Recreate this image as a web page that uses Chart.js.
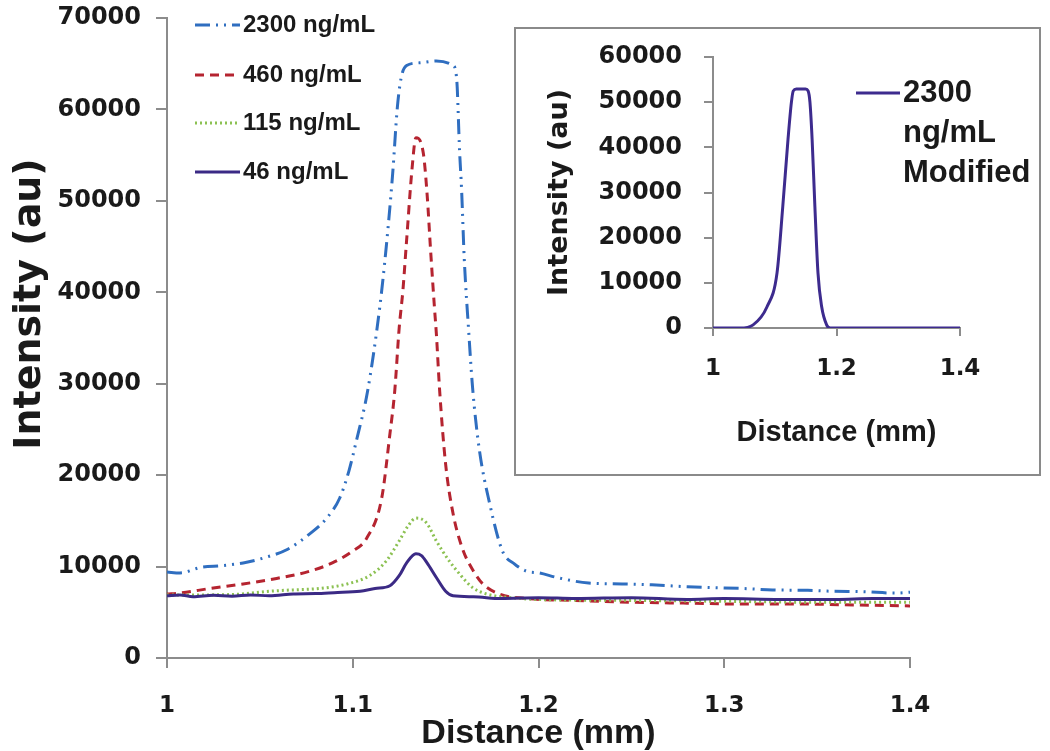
<!DOCTYPE html>
<html>
<head>
<meta charset="utf-8">
<script src="https://cdn.jsdelivr.net/npm/chart.js@4.4.0/dist/chart.umd.min.js"></script>
<style>
  html, body { margin: 0; padding: 0; background: #fff; }
  #wrap { position: relative; width: 1050px; height: 751px; overflow: hidden; }
  #mainBox { position: absolute; left: 0; top: 0; }
  #insetBox { position: absolute; left: 514px; top: 27px; width: 527px; height: 449px;
              border: 2px solid #8a8a8a; background: #fff; box-sizing: border-box; }
  canvas { display: block; }
</style>
</head>
<body>
<div id="wrap">
  <div id="mainBox"><canvas id="mainChart" width="1050" height="751"></canvas></div>
  <div id="insetBox"><canvas id="insetChart" width="523" height="445"></canvas></div>
</div>
<script>
// values (distance in mm, intensity in au)
const legendLabels = ['2300 ng/mL', '460 ng/mL', '115 ng/mL', '46 ng/mL'];
const insetLabel = ['2300', 'ng/mL', 'Modified'];

const dist2300 = [1.000, 1.007, 1.018, 1.030, 1.041, 1.053, 1.065, 1.077, 1.086, 1.093, 1.098, 1.102, 1.108,
  1.1145, 1.118, 1.1215, 1.124, 1.126, 1.129, 1.136, 1.145, 1.154, 1.156, 1.1575, 1.1586, 1.160, 1.1624,
  1.1645, 1.168, 1.1737, 1.1806, 1.187, 1.1935, 1.2005, 1.210, 1.227, 1.245, 1.261, 1.280, 1.294, 1.310,
  1.326, 1.345, 1.358, 1.375, 1.392, 1.400];
const int2300 = [9400, 9300, 9900, 10100, 10400, 11000, 11900, 13600, 15300, 17500, 20500, 23800, 29200,
  38300, 44900, 53000, 60200, 63400, 64800, 65100, 65300, 64800, 63200, 55500, 51200, 43800, 35800,
  29600, 23000, 16900, 11700, 10300, 9500, 9300, 8800, 8200, 8100, 8000, 7800, 7700, 7600,
  7450, 7400, 7300, 7250, 7100, 7200];

const dist460 = [1.000, 1.007, 1.023, 1.041, 1.059, 1.077, 1.089, 1.100, 1.1075, 1.1156, 1.120, 1.1226, 1.125,
  1.127, 1.129, 1.132, 1.134, 1.138, 1.140, 1.142, 1.144, 1.145, 1.1468, 1.150, 1.154, 1.159, 1.165,
  1.170, 1.179, 1.194, 1.220, 1.250, 1.280, 1.310, 1.340, 1.370, 1.400];
const int460 = [7000, 7100, 7600, 8100, 8700, 9500, 10400, 11700, 13100, 17500, 24500, 29200, 36100,
  40200, 45700, 53700, 56900, 55200, 50800, 44300, 38300, 35500, 29200, 21200, 15800, 12000, 9500,
  8100, 7000, 6500, 6300, 6100, 6000, 5900, 5900, 5800, 5700];

const dist115 = [1.000, 1.020, 1.040, 1.055, 1.068, 1.082, 1.097, 1.109, 1.118, 1.125, 1.130, 1.134, 1.137,
  1.140, 1.145, 1.152, 1.1575, 1.1645, 1.172, 1.185, 1.200, 1.250, 1.300, 1.350, 1.400];
const int115 = [6900, 6900, 7000, 7300, 7450, 7600, 8100, 9000, 10600, 12800, 14500, 15300, 15200,
  14700, 12800, 10600, 9200, 7700, 7000, 6600, 6400, 6300, 6200, 6100, 6100];

const dist46 = [1.000, 1.007, 1.014, 1.025, 1.035, 1.045, 1.055, 1.068, 1.080, 1.090, 1.104, 1.112, 1.120,
  1.125, 1.129, 1.134, 1.137, 1.140, 1.145, 1.150, 1.154, 1.165, 1.180, 1.200, 1.220, 1.250, 1.280,
  1.300, 1.330, 1.360, 1.380, 1.400];
const int46 = [6800, 6900, 6700, 6850, 6750, 6900, 6800, 7000, 7050, 7150, 7300, 7600, 7900,
  9000, 10400, 11400, 11200, 10400, 8800, 7300, 6800, 6700, 6500, 6600, 6500, 6600, 6400,
  6500, 6400, 6400, 6500, 6500];

const distMod = [1.000, 1.044, 1.065, 1.0875, 1.1037, 1.113, 1.1215, 1.127, 1.130, 1.135, 1.150, 1.154,
  1.157, 1.1605, 1.165, 1.170, 1.176, 1.184, 1.190, 1.400];
const intMod = [0, 0, 700, 4700, 12200, 26900, 41800, 50000, 52500, 52900, 52900, 52500,
  50000, 41800, 26900, 12200, 4700, 700, 0, 0];

const mainTicksY = [0, 70000, 10000];   // min, max, step
const mainTicksX = [1, 1.4, 0.1];
const insetTicksY = [0, 60000, 10000];
const insetTicksX = [1, 1.4, 0.2];

function pts(xs, ys) { return xs.map((x, i) => ({ x: x, y: ys[i] })); }

const axisColor = '#8c8c8c';
const textColor = '#1a1a1a';
const tickFont = { family: 'DejaVu Sans', weight: 'bold', size: 24 };
const tickFontX = { family: 'DejaVu Sans', weight: 'bold', size: 23 };

// draws the line samples and labels of the legends, and a free y title
const lineLegend = {
  id: 'lineLegend',
  afterDatasetsDraw(chart, args, opts) {
    const ctx = chart.ctx;
    ctx.save();
    (opts.rows || []).forEach(row => {
      const ds = chart.data.datasets[row.index];
      ctx.strokeStyle = ds.borderColor;
      ctx.lineWidth = ds.borderWidth;
      ctx.lineCap = 'butt';
      ctx.setLineDash(ds.borderDash || []);
      ctx.beginPath();
      ctx.moveTo(opts.x1, row.y);
      ctx.lineTo(opts.x2, row.y);
      ctx.stroke();
      ctx.setLineDash([]);
      ctx.fillStyle = textColor;
      ctx.font = opts.font;
      ctx.textBaseline = 'middle';
      row.text.forEach((t, j) => ctx.fillText(t, opts.x2 + 3, row.y + j * (opts.gap || 0)));
    });
    if (opts.yTitle) {
      const t = opts.yTitle;
      ctx.translate(t.x, t.y);
      ctx.rotate(-Math.PI / 2);
      ctx.font = t.font;
      ctx.fillStyle = textColor;
      ctx.textAlign = 'center';
      ctx.textBaseline = 'middle';
      ctx.fillText(t.text, 0, 0);
    }
    ctx.restore();
  }
};

function axis(min, max, step, font, tickLen, pad, size, title) {
  return {
    type: 'linear', min: min, max: max,
    ticks: { stepSize: step, padding: pad, color: textColor, font: font, maxRotation: 0, autoSkip: false },
    grid: { drawOnChartArea: false, drawTicks: true, tickLength: tickLen, color: axisColor, lineWidth: 2 },
    border: { display: true, color: axisColor, width: 2 },
    title: title,
    afterFit: s => {
      if (s.isHorizontal()) { s.height = size; } else { s.width = size; s.paddingTop = 0; s.paddingBottom = 0; }
    }
  };
}
const fmtX = v => String(Math.round(v * 10) / 10);

const mainY = axis(mainTicksY[0], mainTicksY[1], mainTicksY[2], tickFont, 11, 15, 167, { display: false });
mainY.ticks.callback = v => String(v);
const mainX = axis(mainTicksX[0], mainTicksX[1], mainTicksX[2], tickFontX, 10, 24, 93,
  { display: true, text: 'Distance (mm)', color: textColor, font: { family: 'Liberation Sans', weight: 'bold', size: 34 }, padding: { top: 0, bottom: -3 } });
mainX.ticks.callback = fmtX;

new Chart(document.getElementById('mainChart').getContext('2d'), {
  type: 'line',
  data: {
    datasets: [
      { label: legendLabels[3], data: pts(dist46, int46), borderColor: '#3b2a85', borderWidth: 3 },
      { label: legendLabels[2], data: pts(dist115, int115), borderColor: '#8cc152', borderWidth: 3, borderDash: [2, 3] },
      { label: legendLabels[1], data: pts(dist460, int460), borderColor: '#b52430', borderWidth: 3, borderDash: [9, 6] },
      { label: legendLabels[0], data: pts(dist2300, int2300), borderColor: '#2f6ec0', borderWidth: 3, borderDash: [15, 6, 2, 6, 2, 6] }
    ]
  },
  options: {
    responsive: false,
    animation: false,
    layout: { padding: { top: 18, right: 140, bottom: 0, left: 0 } },
    elements: { point: { radius: 0 }, line: { cubicInterpolationMode: 'monotone', borderCapStyle: 'butt' } },
    plugins: {
      legend: { display: false },
      tooltip: { enabled: false },
      lineLegend: {
        x1: 195, x2: 240, font: 'bold 24px "Liberation Sans"',
        rows: [
          { index: 3, y: 25, text: [legendLabels[0]] },
          { index: 2, y: 75, text: [legendLabels[1]] },
          { index: 1, y: 123, text: [legendLabels[2]] },
          { index: 0, y: 172, text: [legendLabels[3]] }
        ],
        yTitle: { text: 'Intensity (au)', x: 30, y: 304, font: 'bold 38px "DejaVu Sans"' }
      }
    },
    scales: { x: mainX, y: mainY }
  },
  plugins: [lineLegend]
});

const insetY = axis(insetTicksY[0], insetTicksY[1], insetTicksY[2], tickFont, 9, 22, 197,
  { display: true, text: 'Intensity (au)', color: textColor, font: { family: 'DejaVu Sans', weight: 'bold', size: 27 }, padding: { top: 28, bottom: 0 } });
insetY.ticks.callback = v => String(v);
const insetX = axis(insetTicksX[0], insetTicksX[1], insetTicksX[2], tickFontX, 8, 19, 146,
  { display: true, text: 'Distance (mm)', color: textColor, font: { family: 'Liberation Sans', weight: 'bold', size: 29 }, padding: { top: 0, bottom: 24 } });
insetX.ticks.callback = fmtX;

new Chart(document.getElementById('insetChart').getContext('2d'), {
  type: 'line',
  data: {
    datasets: [
      { label: insetLabel.join(' '), data: pts(distMod, intMod), borderColor: '#3d2b8e', borderWidth: 3 }
    ]
  },
  options: {
    responsive: false,
    animation: false,
    layout: { padding: { top: 28, right: 79, bottom: 0, left: 0 } },
    elements: { point: { radius: 0 }, line: { cubicInterpolationMode: 'monotone' } },
    plugins: {
      legend: { display: false },
      tooltip: { enabled: false },
      lineLegend: {
        x1: 340, x2: 384, font: 'bold 31px "Liberation Sans"', gap: 40,
        rows: [{ index: 0, y: 64, text: insetLabel }]
      }
    },
    scales: { x: insetX, y: insetY }
  },
  plugins: [lineLegend]
});
</script>
</body>
</html>
